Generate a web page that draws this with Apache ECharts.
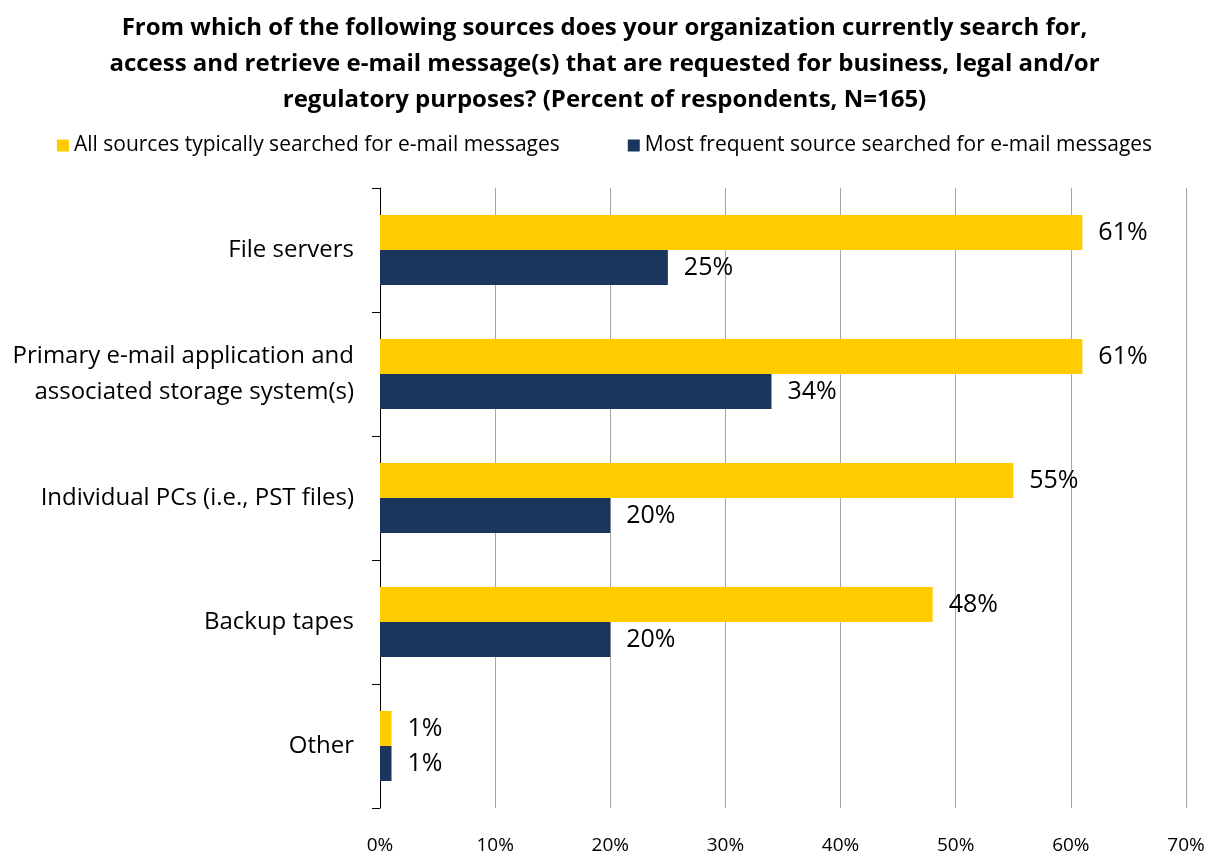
<!DOCTYPE html>
<html><head><meta charset="utf-8">
<script src="https://cdn.jsdelivr.net/npm/echarts@6/dist/echarts.min.js"></script>
<style>html,body{margin:0;padding:0;background:#fff}#c{width:1209px;height:857px}</style>
</head><body><div id="c"></div>
<script>
var categories = ["File servers", "Primary e-mail application and\nassociated storage system(s)", "Individual PCs (i.e., PST files)", "Backup tapes", "Other"];
var allSources = [61, 61, 55, 48, 1];
var mostFrequent = [25, 34, 20, 20, 1];
var seriesNames = ["All sources typically searched for e-mail messages", "Most frequent source searched for e-mail messages"];
var xTicks = [0, 10, 20, 30, 40, 50, 60, 70];
var titleText = "From which of the following sources does your organization currently search for,\naccess and retrieve e-mail message(s) that are requested for business, legal and/or\nregulatory purposes? (Percent of respondents, N=165)";

var FONT = "'Open Sans', Lato, sans-serif";
var chart = echarts.init(document.getElementById('c'), null, {renderer: 'canvas'});
var lbl = {show: true, position: 'right', distance: 16, formatter: '{c}%', fontFamily: FONT, fontSize: 25, color: '#000'};
chart.setOption({
  animation: false,
  title: {text: titleText, left: 'center', top: 5, textStyle: {fontFamily: FONT, fontSize: 24, fontWeight: 'bold', color: '#000', lineHeight: 36}},
  legend: {top: 130, left: 'center', itemWidth: 12, itemHeight: 12, itemGap: 68, icon: 'rect',
    textStyle: {fontFamily: FONT, fontSize: 21, color: '#000'}, data: seriesNames},
  grid: {left: 380, right: 23, top: 188, bottom: 49, containLabel: false},
  xAxis: {type: 'value', min: 0, max: 70, interval: 10,
    axisLine: {show: false}, axisTick: {show: false},
    splitLine: {show: true, lineStyle: {color: '#a6a6a6', width: 1}},
    axisLabel: {margin: 28, fontFamily: FONT, fontSize: 19, color: '#000', formatter: function(v){return v + '%';}}},
  yAxis: {type: 'category', data: categories, inverse: true,
    axisLine: {show: true, lineStyle: {color: '#000', width: 1}},
    axisTick: {show: true, length: 8, lineStyle: {color: '#000'}},
    axisLabel: {margin: 26, fontFamily: FONT, fontSize: 24, color: '#000', lineHeight: 36, align: 'right'}},
  series: [
    {name: seriesNames[0], type: 'bar', data: allSources, barWidth: 35, barGap: '0%', itemStyle: {color: '#FFCC00'}, label: lbl},
    {name: seriesNames[1], type: 'bar', data: mostFrequent, barWidth: 35, barGap: '0%', itemStyle: {color: '#1B365D'}, label: lbl}
  ]
});
</script></body></html>
